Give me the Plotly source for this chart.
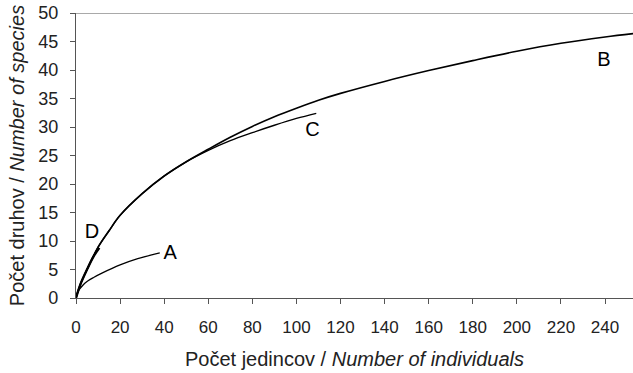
import plotly.graph_objects as go

# Curve B (longest)
b_x = [0, 2, 5, 10, 15, 20, 30, 40, 50, 60, 70, 80, 90, 100, 110, 120, 140, 160, 180, 200, 220, 240, 253]
b_y = [0, 2.4, 5.0, 8.9, 11.8, 14.5, 18.3, 21.4, 23.9, 26.1, 28.2, 30.1, 31.8, 33.3, 34.7, 35.9, 38.0, 39.9, 41.65, 43.3, 44.7, 45.8, 46.4]

# Curve C
c_x = [0, 2, 5, 10, 15, 20, 30, 40, 50, 60, 70, 80, 90, 100, 109]
c_y = [0, 2.4, 5.0, 8.9, 11.8, 14.5, 18.3, 21.4, 23.9, 25.9, 27.6, 29.0, 30.3, 31.5, 32.4]

# Curve A
a_x = [0, 1, 3, 5, 8, 12, 20, 28, 38]
a_y = [0, 1.2, 2.2, 2.9, 3.6, 4.4, 5.8, 6.9, 7.9]

# Curve D
d_x = [0, 2, 5, 8, 10.6]
d_y = [0, 2.4, 5.0, 7.3, 8.8]

labels = ["A", "B", "C", "D"]
label_x = [42.7, 239.5, 107.3, 7.3]
label_y = [7.8, 41.5, 29.3, 11.4]

x_ticks = list(range(0, 241, 20))
y_ticks = list(range(0, 51, 5))

FONT = "Liberation Sans, Arial, sans-serif"

fig = go.Figure()
for xs, ys, w in [(b_x, b_y, 1.6), (c_x, c_y, 1.4), (a_x, a_y, 1.3), (d_x, d_y, 2.4)]:
    fig.add_trace(go.Scatter(x=xs, y=ys, mode="lines",
                             line=dict(color="black", width=w, shape="spline", smoothing=1.0),
                             showlegend=False, hoverinfo="skip", cliponaxis=False))

fig.add_trace(go.Scatter(x=label_x, y=label_y, text=labels, mode="text",
                         textfont=dict(size=20, color="black", family=FONT),
                         textposition="middle center", showlegend=False, hoverinfo="skip"))

fig.add_shape(type="line", xref="paper", yref="y", x0=0, x1=1, y0=50, y1=50,
              line=dict(color="#555555", width=1.2))

fig.update_layout(
    width=633, height=373,
    margin=dict(l=76, r=0, t=13, b=75),
    paper_bgcolor="white", plot_bgcolor="white",
    font=dict(family=FONT, color="#222222", size=17),
    xaxis=dict(range=[0, 252.7], tickvals=x_ticks, showgrid=False, zeroline=False,
               showline=True, linecolor="#555555", linewidth=1.2, automargin=False,
               ticks="outside", ticklen=5, tickcolor="#555555", ticklabelstandoff=8,
               tickfont=dict(size=17),
               title=dict(text="Počet jedincov / <i>Number of individuals</i>", font=dict(size=20), standoff=16)),
    yaxis=dict(range=[0, 50], tickvals=y_ticks, showgrid=False, zeroline=False,
               showline=True, linecolor="#555555", linewidth=1.2, automargin=False,
               ticks="outside", ticklen=5, tickcolor="#555555", ticklabelstandoff=8,
               tickfont=dict(size=18),
               title=dict(text="Počet druhov / <i>Number of species</i>", font=dict(size=20), standoff=8)),
)

fig.write_html("out.html", config={"displayModeBar": False},
               post_script="document.body.style.margin='0px';")
